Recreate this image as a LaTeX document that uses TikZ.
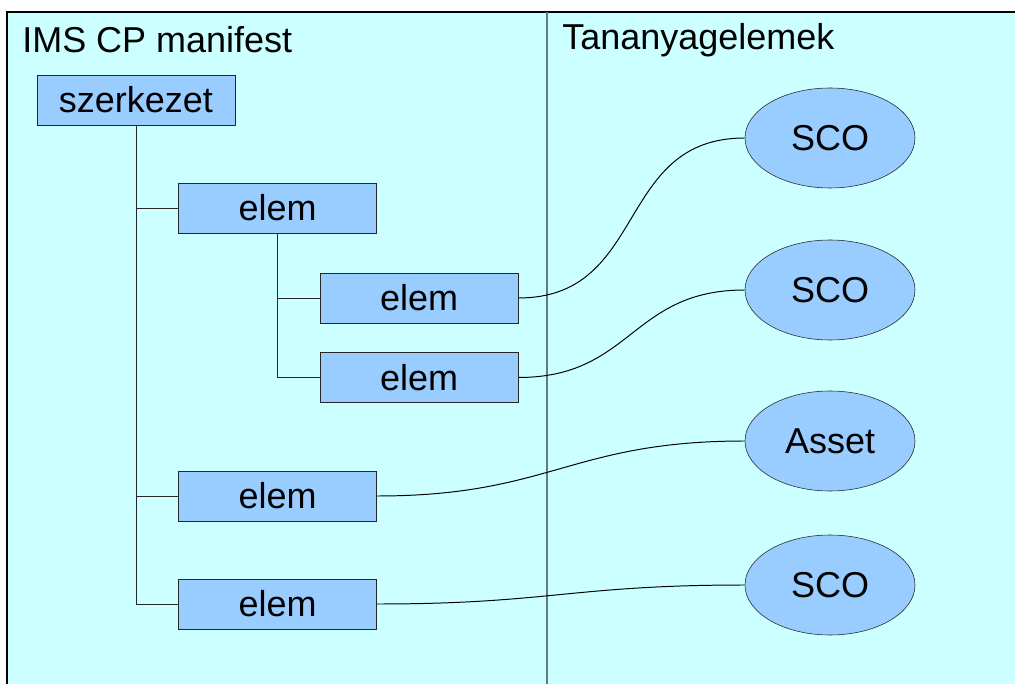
\documentclass[tikz,border=0pt]{standalone}
\usepackage{fontspec}
\setmainfont{Liberation Sans}
\usepackage{xcolor}
\usepackage{tikz}
\usetikzlibrary{shapes.geometric, positioning, calc}
\definecolor{cPanel}{RGB}{204,255,255}
\definecolor{cBox}{RGB}{153,204,255}
\definecolor{cSplit}{RGB}{95,125,125}
\tikzset{
	itembox/.style ={rectangle, minimum width=4.95cm, minimum height=1.25cm, inner sep=0pt, draw=black!85, fill=cBox},
	unit/.style    ={ellipse, minimum width=4.25cm, minimum height=2.5cm, inner sep=0pt, draw=black!85, fill=cBox},
	branch/.style  ={draw=black!85, line width=0.7pt},
	link/.style    ={draw=black, line width=0.7pt, out=0, in=180, looseness=1.2},
}
\begin{document}
\begin{tikzpicture}[every node/.style={font=\fontsize{25.6}{30}\selectfont}]
	\useasboundingbox (0,0) rectangle (25.375,-17.1);
	% panels
	\fill[cPanel] (0.175,-0.3) rectangle (25.5,-17.2);
	\draw[line width=0.9pt] (0.175,-17.2) -- (0.175,-0.3) -- (25.5,-0.3);
	\draw[cSplit, line width=0.9pt] (13.675,-0.3) -- (13.675,-17.2);
	\node[anchor=west, inner sep=0pt] (hleft) at (0.55,-1.0) {IMS CP manifest};
	\node[anchor=west, inner sep=0pt] (hright) at (14.05,-1.0) {Tananyagelemek};
	% manifest tree
	\node[itembox] (szerk) at (3.4,-2.5) {szerkezet};
	\node[itembox] (e1) at (6.9375,-5.2) {elem};
	\node[itembox] (e11) at (10.475,-7.45) {elem};
	\node[itembox] (e12) at (10.475,-9.4375) {elem};
	\node[itembox] (e2) at (6.9375,-12.4) {elem};
	\node[itembox] (e3) at (6.9375,-15.1) {elem};
	\draw[branch] (szerk.south) |- (e1.west); \draw[branch] (szerk.south) |- (e2.west); \draw[branch] (szerk.south) |- (e3.west);
	\draw[branch] (e1.south) |- (e11.west); \draw[branch] (e1.south) |- (e12.west);
	% learning objects
	\node[unit] (sco1) at (20.75,-3.45) {SCO};
	\node[unit] (sco2) at (20.75,-7.25) {SCO};
	\node[unit] (asset) at (20.75,-11.025) {Asset};
	\node[unit] (sco3) at (20.75,-14.625) {SCO};
	\draw[link] (e11.east) to (sco1.west); \draw[link] (e12.east) to (sco2.west);
	\draw[link] (e2.east) to (asset.west); \draw[link] (e3.east) to (sco3.west);
\end{tikzpicture}
\end{document}
